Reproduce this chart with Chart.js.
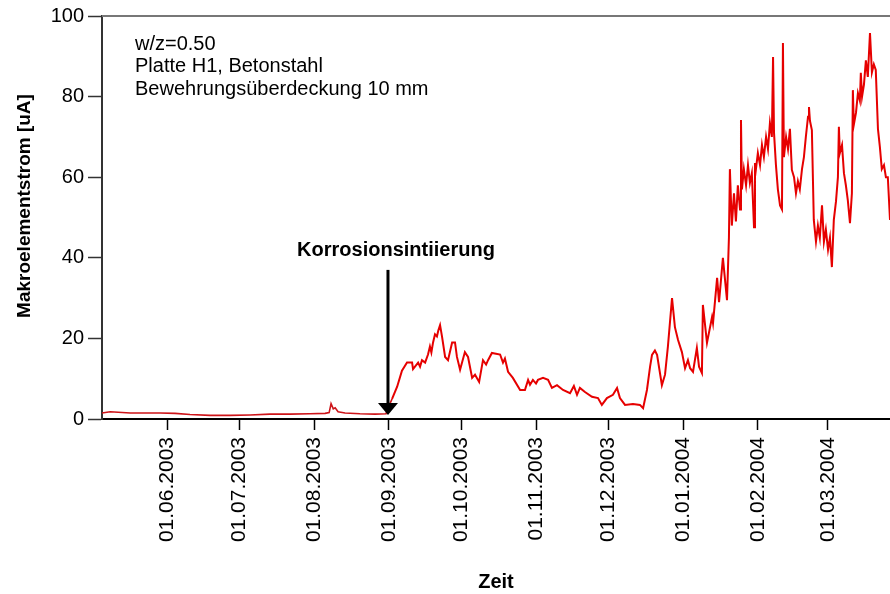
<!DOCTYPE html>
<html>
<head>
<meta charset="utf-8">
<script src="https://cdn.jsdelivr.net/npm/chart.js@4/dist/chart.umd.min.js"></script>
<style>
  body { margin: 0; background: #fff; }
  #wrap { width: 890px; height: 594px; }
</style>
</head>
<body>
<div id="wrap"><canvas id="chart" width="890" height="594"></canvas></div>
<script>
// Tage seit 01.01.2003
const tage = [
  124, 127.4, 135.7, 148.1, 154.3, 160.5, 168.8, 177.1, 185.4, 193.7, 202.0, 210.3,
  216.5, 218.2, 219.0, 219.9, 220.7, 221.9, 224.8, 231.0, 237.2, 241.8,
  242.2, 244.3, 246.4, 248.4, 250.5, 252.6, 253.0, 255.1, 255.9, 256.7, 258.0, 259.2,
  260.0, 260.6, 261.3, 262.1, 262.9, 263.5, 264.2, 265.0, 266.3, 267.5, 269.2, 270.4, 271.2, 272.5,
  274.5, 275.8, 277.5, 278.7, 280.4, 282.0, 283.3, 284.1, 285.7, 289.1, 290.3, 291.1,
  292.4, 294.4, 297.4, 299.4, 300.7, 301.5, 302.7, 304.0, 304.8, 306.9, 309.0, 310.6,
  312.7, 315.2, 318.1, 319.7, 321.0, 322.2, 324.3, 327.2, 329.7, 331.3, 333.4, 335.9,
  337.6, 338.8, 340.9, 344.2, 347.1, 348.4, 350.0, 351.3, 352.1, 353.3, 354.2, 356.2,
  357.5, 358.7, 360.4, 361.6, 362.9, 364.5, 365.8, 367.0, 367.9, 369.1, 370.7, 371.6,
  372.8, 373.2, 374.9, 377.0, 377.4, 379.1, 379.9, 381.5, 383.2, 384.0,
  384.4, 385.2, 386.1, 386.9, 387.7, 388.6, 389.0, 389.4, 390.2, 391.1, 391.9, 392.7,
  393.5, 394.4, 394.8, 395.2, 396.0, 396.9, 397.7, 398.5, 399.4, 400.2, 401.0, 401.8,
  402.3, 402.7, 403.5, 404.3, 405.2, 406.0, 406.4, 406.8, 407.7, 408.5, 409.3, 410.1,
  411.0, 411.8, 412.6, 413.4, 414.3, 415.1, 415.9, 416.8, 417.2, 417.6, 418.4, 419.2,
  420.1, 420.9, 421.7, 422.6, 423.4, 424.2, 425.1, 425.9, 426.7, 427.5, 428.4, 429.2,
  429.6, 430.0, 430.9, 431.7, 432.5, 433.3, 434.2, 435.0, 435.4, 435.8, 436.7, 437.5,
  438.3, 438.7, 439.2, 440.0, 440.8, 441.6, 442.5, 443.3, 444.1, 444.9, 445.8, 446.6,
  447.4, 448.3, 449.1, 449.9, 450.8
];
// Makroelementstrom [uA]
const strom = [
  1.5, 1.8, 1.5, 1.5, 1.4, 1.1, 0.9, 0.9, 1.0, 1.2, 1.2, 1.3,
  1.4, 1.6, 3.8, 2.5, 2.8, 1.8, 1.5, 1.3, 1.2, 1.3,
  2.2, 5, 8, 12, 14, 14, 12.4, 14, 13, 14.6, 14, 16,
  18, 16.5, 19, 21, 20.5, 22, 23.3, 20.5, 15.4, 14.6, 19, 19, 15.4, 12.2,
  16.6, 15.4, 10.2, 11, 9.2, 14.6, 13.5, 14.6, 16.4, 16, 14, 15,
  11.7, 10.2, 7.2, 7.2, 9.7, 8.5, 9.7, 8.8, 9.7, 10.2, 9.7, 7.7,
  8.4, 7.2, 6.4, 8.2, 6, 7.7, 6.7, 5.5, 5.2, 3.5, 5.2, 6,
  7.7, 5.2, 3.5, 3.7, 3.5, 2.7, 7.2, 13, 15.9, 17, 15.9, 8.4,
  11, 18, 30, 22.8, 19.6, 16.6, 12.6, 14.6, 12.6, 11.7, 17.6, 13,
  11.4, 28.3, 18.9, 25.3, 23.8, 35, 29, 40, 29.5, 45,
  62, 48, 56, 49, 58, 52, 74.2, 57, 62, 58, 63, 58.6,
  61, 47.6, 63.5, 62, 66, 63, 68, 65, 70, 67, 73.4, 70,
  89.8, 71, 63, 57, 53, 52, 93.3, 65, 70, 67, 72, 61.8,
  60, 56, 59, 57, 62, 65, 70, 75, 77.4, 74, 71.7, 49.4,
  44, 48, 45, 53, 44, 47, 42, 45, 37.7, 49.4, 54, 60,
  72.5, 66, 68, 61, 58, 54.3, 48.6, 56, 81.6, 73, 76, 80.9,
  79, 85.9, 80, 83, 89, 84.9, 95.8, 86, 88, 86.6, 72, 67.5,
  62, 63, 60, 60, 49.4
];
// Achsenbeschriftung: Monatsanfaenge
const tickTage = [151, 181, 212, 243, 273, 304, 334, 365, 396, 425];
const tickLabels = ["01.06.2003", "01.07.2003", "01.08.2003", "01.09.2003", "01.10.2003",
  "01.11.2003", "01.12.2003", "01.01.2004", "01.02.2004", "01.03.2004"];
const yTicks = [0, 20, 40, 60, 80, 100];
const infoText = ["w/z=0.50", "Platte H1, Betonstahl", "Bewehrungsüberdeckung 10 mm"];
const initTag = 242.6;

const schrift = "'Liberation Sans', Arial, sans-serif";

const extras = {
  id: "extras",
  afterDraw(chart) {
    const ctx = chart.ctx;
    const a = chart.chartArea;
    const x = chart.scales.x, y = chart.scales.y;
    ctx.save();
    // obere Rahmenlinie
    ctx.strokeStyle = "#777";
    ctx.lineWidth = 2;
    ctx.beginPath();
    ctx.moveTo(a.left, a.top);
    ctx.lineTo(a.right, a.top);
    ctx.stroke();
    // y-Achsentitel
    ctx.fillStyle = "#000";
    ctx.save();
    ctx.translate(25, 206);
    ctx.rotate(-Math.PI / 2);
    ctx.font = "bold 19px " + schrift;
    ctx.textAlign = "center";
    ctx.textBaseline = "middle";
    ctx.fillText("Makroelementstrom [uA]", 0, 0);
    ctx.restore();
    // Infotext
    ctx.font = "20px " + schrift;
    ctx.textBaseline = "middle";
    ctx.textAlign = "left";
    infoText.forEach((t, i) => ctx.fillText(t, a.left + 33, a.top + 28 + i * 22.5));
    // Pfeil Korrosionsinitiierung
    const px = x.getPixelForValue(initTag);
    const yTop = y.getPixelForValue(37);
    const yTip = y.getPixelForValue(1);
    ctx.strokeStyle = "#000";
    ctx.lineWidth = 3;
    ctx.beginPath();
    ctx.moveTo(px, yTop);
    ctx.lineTo(px, yTip - 10);
    ctx.stroke();
    ctx.beginPath();
    ctx.moveTo(px - 10, yTip - 12);
    ctx.lineTo(px + 10, yTip - 12);
    ctx.lineTo(px, yTip);
    ctx.closePath();
    ctx.fill();
    ctx.font = "bold 20px " + schrift;
    ctx.textAlign = "center";
    ctx.fillText("Korrosionsintiierung", px + 8, y.getPixelForValue(41.7));
    ctx.restore();
  }
};

new Chart(document.getElementById("chart"), {
  type: "line",
  data: {
    datasets: [{
      data: tage.map((t, i) => ({ x: t, y: strom[i] })),
      borderColor: "rgb(230, 0, 0)",
      borderWidth: 2,
      pointRadius: 0,
      tension: 0,
      fill: false,
      segment: {
        borderColor: (c) => c.p0.parsed.x < initTag ? "rgb(205, 20, 25)" : undefined,
        borderWidth: (c) => c.p0.parsed.x < initTag ? 1.6 : undefined
      }
    }]
  },
  options: {
    responsive: false,
    animation: false,
    layout: { padding: { top: 16, right: 0, left: 0, bottom: 0 } },
    plugins: { legend: { display: false }, tooltip: { enabled: false } },
    scales: {
      x: {
        type: "linear",
        min: 124,
        max: 450.8,
        afterBuildTicks(scale) {
          scale.ticks = tickTage.map(v => ({ value: v }));
        },
        afterFit(scale) { scale.height = 175; },
        ticks: {
          minRotation: 90,
          maxRotation: 90,
          autoSkip: false,
          padding: 7,
          color: "#000",
          font: { family: schrift, size: 21 },
          callback: (v) => tickLabels[tickTage.indexOf(v)]
        },
        grid: { drawOnChartArea: false, tickLength: 11, tickColor: "#000", tickWidth: 1.5 },
        border: { color: "#000", width: 2 },
        title: {
          display: true,
          text: "Zeit",
          color: "#000",
          font: { family: schrift, size: 20, weight: "bold" },
          padding: { top: 0, bottom: 0 }
        }
      },
      y: {
        min: 0,
        max: 100,
        afterBuildTicks(scale) {
          scale.ticks = yTicks.map(v => ({ value: v }));
        },
        afterFit(scale) { scale.width = 102; },
        ticks: {
          padding: 4,
          color: "#000",
          font: { family: schrift, size: 20 }
        },
        grid: { drawOnChartArea: false, tickLength: 14, tickColor: "#333", tickWidth: 1.5 },
        border: { color: "#333", width: 2 }
      }
    }
  },
  plugins: [extras]
});
</script>
</body>
</html>
